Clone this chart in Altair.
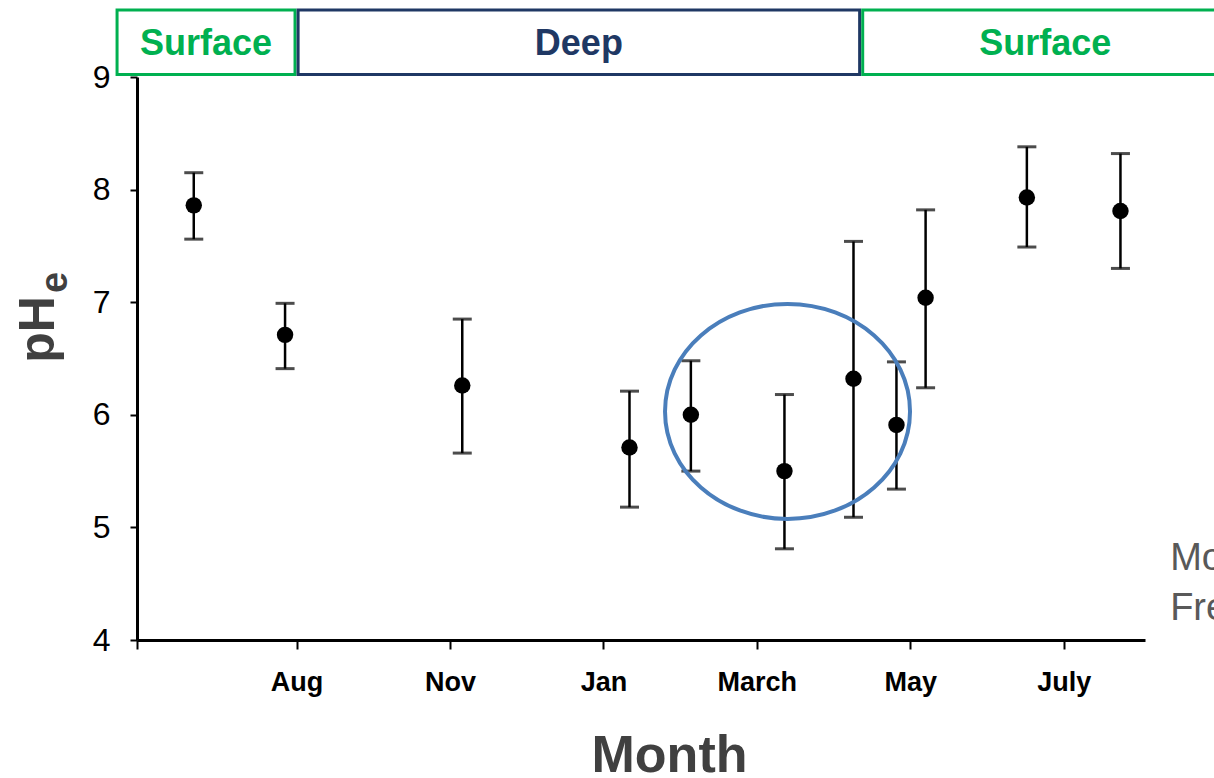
import altair as alt
import pandas as pd

# ---- data ----
month_pos = [0.33, 0.925, 2.08, 3.17, 3.57, 4.18, 4.63, 4.91, 5.10, 5.76, 6.37]
ph_mean = [7.86, 6.71, 6.26, 5.71, 6.00, 5.50, 6.32, 5.91, 7.04, 7.93, 7.81]
ph_upper = [8.15, 6.99, 6.85, 6.21, 6.48, 6.18, 7.54, 6.47, 7.82, 8.38, 8.32]
ph_lower = [7.56, 6.41, 5.66, 5.18, 5.50, 4.81, 5.09, 5.34, 6.24, 7.49, 7.30]

tick_values = [-0.04, 1, 2, 3, 4, 5, 6]
tick_labels = ["", "Aug", "Nov", "Jan", "March", "May", "July"]

# season boxes above the plot
box_labels = ["Surface", "Deep", "Surface"]
box_x0 = [-0.17, 1.01, 4.69]
box_x1 = [0.99, 4.67, 7.0]
box_text_x = [0.41, 2.84, 5.88]
box_colors = ["#00B050", "#1F3864", "#00B050"]
box_y0 = 9.022
box_y1 = 9.595
box_text_y = 9.29

# highlight ellipse (centre, in data units)
ellipse_x = [4.20]
ellipse_y = [6.03]

# cut-off text at right
side_text = ["Mo", "Fre"]
side_x = [6.694, 6.694]
side_y = [4.622, 4.178]

X_DOMAIN = [-0.04, 6.53]
Y_DOMAIN = [4, 9]

pts = pd.DataFrame({"m": month_pos, "ph": ph_mean, "hi": ph_upper, "lo": ph_lower})
boxes = pd.DataFrame({
    "label": box_labels, "x0": box_x0, "x1": box_x1, "tx": box_text_x,
    "color": box_colors, "y0": [box_y0] * 3, "y1": [box_y1] * 3, "ty": [box_text_y] * 3,
})
ell = pd.DataFrame({"x": ellipse_x, "y": ellipse_y})
side = pd.DataFrame({"t": side_text, "x": side_x, "y": side_y})
sub = pd.DataFrame({"t": ["e"], "x": [-0.496], "y": [7.175]})

label_expr = "[" + ",".join("'%s'" % l for l in tick_labels) + "][round(datum.value)]"

x_axis = alt.Axis(
    title="Month", values=tick_values, labelExpr=label_expr, grid=False,
    domainColor="black", domainWidth=3, tickColor="black", tickWidth=2, tickSize=9,
    labelFont="Liberation Sans", labelFontSize=27, labelFontWeight="bold", labelColor="black",
    labelPadding=20, labelBaseline="top", labelFlush=False,
    titleFont="Liberation Sans", titleFontSize=52, titleFontWeight="bold", titleColor="#404040",
    titleX=532, titleY=131, titleBaseline="alphabetic", titleAlign="center",
)
y_axis = alt.Axis(
    title="pH", values=[4, 5, 6, 7, 8, 9], grid=False,
    domainColor="black", domainWidth=3, tickColor="black", tickWidth=2, tickSize=7,
    labelFont="Liberation Sans", labelFontSize=32, labelColor="black", labelPadding=20,
    labelBaseline="middle",
    titleFont="Liberation Sans", titleFontSize=50, titleFontWeight="bold", titleColor="#404040",
    titleAngle=270, titleX=-84, titleY=252, titleBaseline="alphabetic", titleAlign="center",
)
xs = alt.Scale(domain=X_DOMAIN, nice=False, zero=False)
ys = alt.Scale(domain=Y_DOMAIN, nice=False, zero=False)


def X(field):
    return alt.X(field, type="quantitative", scale=xs, axis=x_axis)


def Y(field):
    return alt.Y(field, type="quantitative", scale=ys, axis=y_axis)


rules = alt.Chart(pts).mark_rule(color="black", strokeWidth=2.5).encode(
    x=X("m"), y=Y("lo"), y2="hi")
caps_hi = alt.Chart(pts).mark_tick(color="black", orient="horizontal", size=19, thickness=3).encode(
    x=X("m"), y=Y("hi"))
caps_lo = alt.Chart(pts).mark_tick(color="black", orient="horizontal", size=19, thickness=3).encode(
    x=X("m"), y=Y("lo"))
dots = alt.Chart(pts).mark_circle(color="black", size=270, opacity=1).encode(
    x=X("m"), y=Y("ph"))

ellipse = alt.Chart(ell).mark_point(
    shape="M -1 0 A 1 0.8776 0 1 1 1 0 A 1 0.8776 0 1 1 -1 0 Z",
    size=60025, filled=False, stroke="#4A7EBB", strokeWidth=4, opacity=1,
).encode(x=X("x"), y=Y("y"))

box_rects = alt.Chart(boxes).mark_rect(fillOpacity=0, strokeWidth=3).encode(
    x=X("x0"), x2="x1", y=Y("y0"), y2="y1",
    stroke=alt.Stroke("color:N", scale=None))
box_texts = alt.Chart(boxes).mark_text(
    font="Liberation Sans", fontSize=36, fontWeight="bold", align="center", baseline="middle",
).encode(x=X("tx"), y=Y("ty"), text="label:N", color=alt.Color("color:N", scale=None))

sub_text = alt.Chart(sub).mark_text(
    font="Liberation Sans", fontSize=38, fontWeight="bold", color="#404040",
    angle=270, align="center", baseline="alphabetic",
).encode(x=X("x"), y=Y("y"), text="t:N")

side_texts = alt.Chart(side).mark_text(
    font="Liberation Sans", fontSize=38, color="#595959", align="left", baseline="alphabetic",
).encode(x=X("x"), y=Y("y"), text="t:N")

chart = alt.layer(
    box_rects, box_texts, rules, caps_hi, caps_lo, dots, ellipse, sub_text, side_texts
).properties(
    width=1008, height=563,
    padding={"left": 137, "top": 77, "right": 69, "bottom": 138},
    autosize=alt.AutoSizeParams(type="none"),
    background="white",
).configure_view(stroke=None)

chart.save("out.html", embed_options={"renderer": "svg", "actions": False})
